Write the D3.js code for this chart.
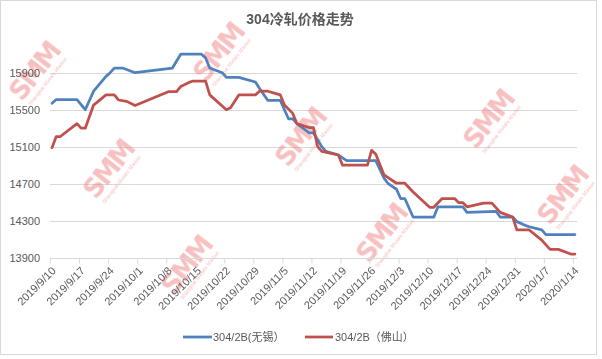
<!DOCTYPE html>
<html><head><meta charset="utf-8">
<script src="https://cdn.jsdelivr.net/npm/d3@7"></script>
<style>html,body{margin:0;padding:0;background:#fff;}svg{display:block;}</style>
</head><body>
<svg id="chart" width="602" height="359"></svg>
<script>
const title = "304冷轧价格走势";
const seriesNames = ["304/2B(无锡）", "304/2B（佛山）"];
const wuxiDates = ["2019-09-10","2019-09-11","2019-09-16","2019-09-18","2019-09-20","2019-09-23","2019-09-24","2019-09-25","2019-09-27","2019-09-30","2019-10-09","2019-10-11","2019-10-16","2019-10-17","2019-10-18","2019-10-21","2019-10-22","2019-10-25","2019-10-29","2019-10-30","2019-11-01","2019-11-04","2019-11-06","2019-11-07","2019-11-08","2019-11-11","2019-11-12","2019-11-14","2019-11-15","2019-11-18","2019-11-20","2019-11-27","2019-11-29","2019-11-30","2019-12-02","2019-12-03","2019-12-04","2019-12-06","2019-12-11","2019-12-12","2019-12-18","2019-12-19","2019-12-26","2019-12-27","2019-12-30","2019-12-31","2020-01-02","2020-01-03","2020-01-06","2020-01-07","2020-01-14"];
const wuxiValues = [15570,15610,15610,15500,15700,15860,15900,15950,15950,15900,15950,16100,16100,16060,15950,15900,15850,15850,15800,15730,15600,15600,15400,15400,15350,15250,15250,15100,15050,15010,14950,14950,14760,14700,14640,14540,14540,14340,14340,14450,14450,14390,14400,14340,14340,14290,14250,14235,14200,14150,14150];
const foshanDates = ["2019-09-10","2019-09-11","2019-09-12","2019-09-16","2019-09-17","2019-09-18","2019-09-20","2019-09-23","2019-09-25","2019-09-26","2019-09-28","2019-09-30","2019-10-08","2019-10-10","2019-10-11","2019-10-13","2019-10-14","2019-10-17","2019-10-18","2019-10-22","2019-10-23","2019-10-25","2019-10-29","2019-10-30","2019-11-01","2019-11-04","2019-11-05","2019-11-07","2019-11-08","2019-11-11","2019-11-12","2019-11-13","2019-11-14","2019-11-16","2019-11-18","2019-11-19","2019-11-25","2019-11-26","2019-11-27","2019-11-29","2019-12-02","2019-12-04","2019-12-06","2019-12-10","2019-12-11","2019-12-13","2019-12-16","2019-12-17","2019-12-18","2019-12-19","2019-12-23","2019-12-25","2019-12-27","2019-12-30","2019-12-31","2020-01-03","2020-01-06","2020-01-08","2020-01-10","2020-01-13","2020-01-14"];
const foshanValues = [15090,15210,15210,15350,15300,15300,15550,15660,15660,15605,15590,15545,15695,15695,15750,15795,15810,15810,15660,15500,15520,15660,15660,15700,15700,15660,15550,15460,15350,15305,15305,15100,15050,15030,15010,14900,14900,15060,15020,14795,14705,14705,14610,14445,14445,14540,14540,14495,14495,14450,14490,14490,14390,14340,14200,14200,14090,13990,13990,13940,13940];
const xTickLabels = ["2019/9/10","2019/9/17","2019/9/24","2019/10/1","2019/10/8","2019/10/15","2019/10/22","2019/10/29","2019/11/5","2019/11/12","2019/11/19","2019/11/26","2019/12/3","2019/12/10","2019/12/17","2019/12/24","2019/12/31","2020/1/7","2020/1/14"];
const yTicks = [13900,14300,14700,15100,15500,15900];
const colors = ["#4F81BD", "#C0504D"];

(function () {
const svg = d3.select("#chart");
const font = "'Liberation Sans', Arial, 'Noto Sans CJK SC', sans-serif";
const parseDash = d3.timeParse("%Y-%m-%d");
const parseSlash = d3.timeParse("%Y/%m/%d");
const noon = d => d3.timeHour.offset(d, 12);

const pLeft = 50, pRight = 577, pTop = 54.2, pBottom = 257.7;
const x = d3.scaleTime()
  .domain([parseDash("2019-09-10"), d3.timeDay.offset(parseDash("2020-01-14"), 1)])
  .range([pLeft, pRight]);
const y = d3.scaleLinear().domain([13900, 16100]).range([pBottom, pTop]);

// border
svg.append("rect").attr("x",0.5).attr("y",0.5).attr("width",596).attr("height",354)
  .attr("fill","#fff").attr("stroke","#d9d9d9");

// gridlines
svg.append("g").selectAll("line").data(yTicks.slice(1)).join("line")
  .attr("x1", pLeft).attr("x2", pRight)
  .attr("y1", d => Math.round(y(d)) + 0.5).attr("y2", d => Math.round(y(d)) + 0.5)
  .attr("stroke", "#d9d9d9").attr("stroke-width", 1);

// watermarks
const wm = [[38,74],[222,55],[112,172],[304,140],[492,122],[190,268],[385,236],[566,198]];
const wg = svg.append("g").attr("opacity", 0.5);
wm.forEach(([cx, cy]) => {
  const g = wg.append("g").attr("transform", `translate(${cx},${cy}) rotate(-52)`);
  g.append("text").attr("text-anchor","middle").attr("y", 5)
    .attr("font-family","'DejaVu Sans', Arial, sans-serif").attr("font-weight","bold")
    .attr("font-size", 26).attr("fill","#f08080").attr("letter-spacing", -2).text("SMM");
  g.append("text").attr("text-anchor","middle").attr("y", 14)
    .attr("font-family", font).attr("font-size", 5.5).attr("fill","#f08080").text("Shanghai Metals Market");
});

// y axis labels
const yAxis = d3.axisLeft(y).tickValues(yTicks).tickSize(0).tickPadding(10).tickFormat(d3.format("d"));
const yg = svg.append("g").attr("transform", `translate(${pLeft},0)`).call(yAxis);
yg.select(".domain").remove();
yg.selectAll("text").attr("font-family", font).attr("font-size", 11).attr("fill", "#595959");

// x axis
const tickDates = xTickLabels.map(parseSlash);
const xAxis = d3.axisBottom(x).tickValues(tickDates).tickSize(5).tickFormat(d3.timeFormat("%Y/%-m/%-d"));
const xg = svg.append("g").attr("transform", `translate(0,${Math.round(pBottom)+0.5})`).call(xAxis);
xg.select(".domain").attr("stroke", "#d9d9d9").attr("d", `M${pLeft},0H${pRight}`);
xg.selectAll(".tick line").attr("stroke", "#d9d9d9");
xg.selectAll("text").attr("font-family", font).attr("font-size", 11).attr("fill", "#595959")
  .attr("text-anchor", "end").attr("dy", 0).attr("y", 0)
  .attr("transform", "translate(6,13) rotate(-45)");

// lines
const line = d3.line().x(d => x(noon(d.date))).y(d => y(d.value));
const series = [
  wuxiDates.map((d, i) => ({date: parseDash(d), value: wuxiValues[i]})),
  foshanDates.map((d, i) => ({date: parseDash(d), value: foshanValues[i]}))
];
svg.append("g").selectAll("path").data(series).join("path")
  .attr("d", line).attr("fill", "none")
  .attr("stroke", (d, i) => colors[i]).attr("stroke-width", 2.75)
  .attr("stroke-linejoin", "round").attr("stroke-linecap", "round");

// title
svg.append("text").attr("x", 300).attr("y", 24).attr("text-anchor", "middle")
  .attr("font-family", font)
  .attr("font-weight", "bold").attr("font-size", 14).attr("fill", "#595959").text(title);

// legend
const legendItems = [{x1: 183, x2: 212, tx: 213}, {x1: 305, x2: 333, tx: 335}];
const lg = svg.append("g");
legendItems.forEach((it, i) => {
  lg.append("line").attr("x1", it.x1).attr("x2", it.x2).attr("y1", 337).attr("y2", 337)
    .attr("stroke", colors[i]).attr("stroke-width", 2.75);
  lg.append("text").attr("x", it.tx).attr("y", 341).attr("font-family", font)
    .attr("font-size", 11).attr("fill", "#595959").text(seriesNames[i]);
});
})();
</script>
</body></html>
